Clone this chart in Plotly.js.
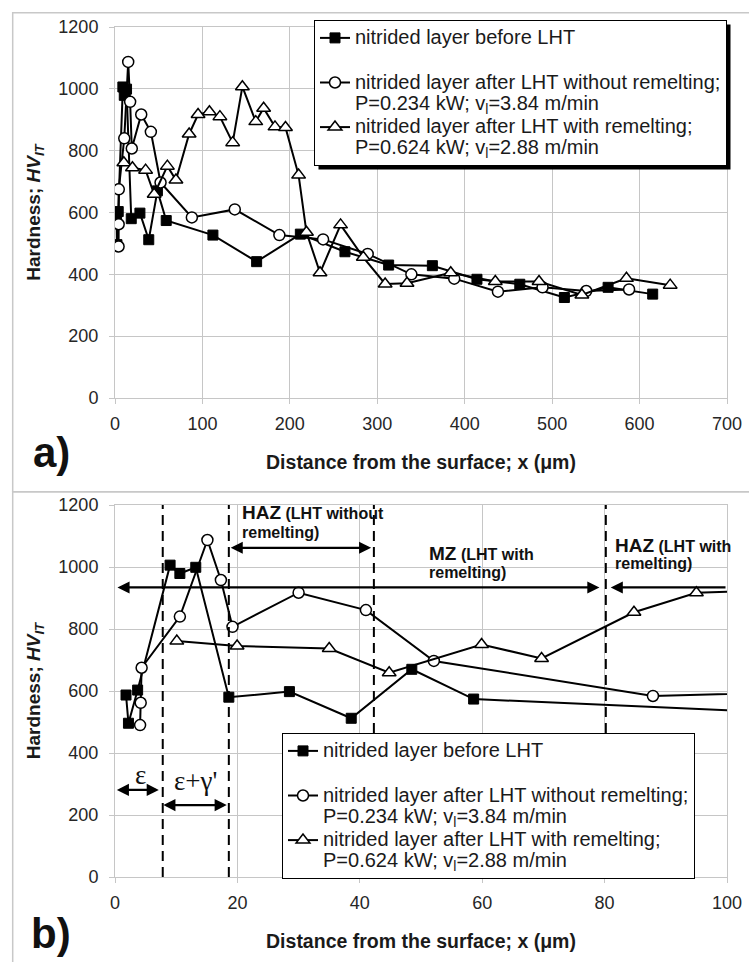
<!DOCTYPE html>
<html>
<head>
<meta charset="utf-8">
<script src="https://cdn.plot.ly/plotly-3.0.1.min.js"></script>
<style>
  html, body { margin: 0; padding: 0; background: #fff; }
  #chart { width: 749px; height: 962px; }
</style>
</head>
<body>
<div id="chart"></div>
<script>
// ---------------- data ----------------
const seriesNames = [
  "nitrided layer before LHT<br>\u00a0",
  "nitrided layer after LHT without remelting;<br>P=0.234 kW; v<sub>l</sub>=3.84 m/min",
  "nitrided layer after LHT with remelting;<br>P=0.624 kW; v<sub>l</sub>=2.88 m/min"
];

// nitrided layer before LHT (x in µm, hardness HV_IT)
const xBefore  = [1.8, 2.2, 3.7, 9.0, 10.6, 13.2, 18.6, 28.5, 38.6, 48.5, 58.6, 112, 162, 212, 263, 313, 363, 414, 463, 514, 564, 615];
const hvBefore = [587, 496, 603, 1006, 979, 999, 580, 598, 512, 670, 574, 527, 441, 530, 473, 430, 428, 384, 368, 325, 358, 336];

// after LHT without remelting
const xNoRemelt  = [4.1, 4.2, 4.35, 10.6, 15.1, 17.3, 19.2, 30, 41, 52.1, 87.9, 137, 188, 238, 289, 339, 388, 438, 489, 539, 588];
const hvNoRemelt = [490, 562, 675, 840, 1087, 958, 807, 917, 861, 697, 584, 610, 527, 513, 466, 400, 386, 344, 358, 346, 351];

// after LHT with remelting
const xRemelt  = [10.1, 19.95, 35, 44.8, 59.9, 69.7, 84.8, 95, 108, 120, 134.6, 145.7, 161, 170, 183, 195, 210, 219, 234.5, 258, 284, 309, 334, 384, 435, 485, 534, 585, 635];
const hvRemelt = [761, 745, 737, 659, 750, 705, 854, 917, 926, 910, 826, 1007, 894, 937, 877, 875, 721, 536, 405, 560, 455, 369, 371, 405, 377, 377, 333, 387, 365];

// zone boundaries in panel b (µm)
const zoneBounds = [7.8, 18.6, 42.3, 80.2];

// axis texts
const xTitle = "<b>Distance from the surface; x (\u03bcm)</b>";
const yTitle = "<b>Hardness; <i>HV</i><sub><i>IT</i></sub></b>";

// ---------------- layout helpers ----------------
const W = 749, H = 962;
const px = v => v / W;
const py = v => 1 - v / H;
const SANS = "Liberation Sans, Arial, Helvetica, sans-serif";
const SERIF = "Liberation Serif, Times New Roman, serif";
const GRID = "#c6c6c6";

const lineStyle = { color: "#000", width: 2 };
const markers = [
  { symbol: "square", size: 10, color: "#000", line: { color: "#000", width: 1 } },
  { symbol: "circle", size: 11, color: "#fff", line: { color: "#000", width: 1.5 } },
  { symbol: "triangle-up", size: 12, color: "#fff", line: { color: "#000", width: 1.5 } }
];
const xs = [xBefore, xNoRemelt, xRemelt];
const ys = [hvBefore, hvNoRemelt, hvRemelt];
const big = s => "<span style='font-size:20px'>" + s + "</span>";

const traces = [];
[["x", "y", "legend"], ["x2", "y2", "legend2"]].forEach(([xa, ya, lg]) => {
  for (let i = 0; i < 3; i++) {
    traces.push({
      type: "scatter", mode: "lines+markers",
      x: xs[i], y: ys[i], name: big(seriesNames[i]),
      xaxis: xa, yaxis: ya, legend: lg,
      line: lineStyle, marker: markers[i],
      cliponaxis: true
    });
  }
});

function xAxis(dom, range, dtick, anchor) {
  return {
    domain: dom, range: range, dtick: dtick, tick0: 0, anchor: anchor,
    showgrid: true, gridcolor: GRID, gridwidth: 1, zeroline: false,
    showline: true, linecolor: GRID, linewidth: 1, mirror: true,
    ticks: "outside", ticklen: 5, tickcolor: GRID,
    ticklabelstandoff: 4,
    tickfont: { family: SANS, size: 18, color: "#262626" },
    title: { text: xTitle, font: { family: SANS, size: 19.5, color: "#1a1a1a" }, standoff: 22 },
    fixedrange: true
  };
}
function yAxis(dom, anchor) {
  return {
    domain: dom, range: [0, 1200], dtick: 200, tick0: 0, anchor: anchor,
    showgrid: true, gridcolor: GRID, gridwidth: 1, zeroline: false,
    showline: true, linecolor: GRID, linewidth: 1, mirror: true,
    ticks: "outside", ticklen: 5, tickcolor: GRID,
    ticklabelstandoff: 7,
    tickfont: { family: SANS, size: 18, color: "#262626" },
    title: { text: yTitle, font: { family: SANS, size: 19, color: "#1a1a1a" }, standoff: 12 },
    fixedrange: true
  };
}

const legendCommon = {
  xanchor: "left", yanchor: "top", bgcolor: "#fff", bordercolor: "#000", borderwidth: 1,
  font: { family: SANS, size: 16, color: "#1a1a1a" }, valign: "top",
  itemwidth: 30, tracegroupgap: 0, orientation: "v"
};

const dashed = { color: "#000", width: 2, dash: "10px,6px" };
const shapes = [
  // panel frames
  { type: "rect", xref: "paper", yref: "paper", x0: px(12.7), x1: px(770), y0: py(12.7), y1: py(491.7), line: { color: "#c8c8c8", width: 1.5 }, layer: "below" },
  { type: "rect", xref: "paper", yref: "paper", x0: px(12.7), x1: px(770), y0: py(491.7), y1: py(990), line: { color: "#c8c8c8", width: 1.5 }, layer: "below" }
];
zoneBounds.forEach(b => shapes.push({
  type: "line", xref: "x2", yref: "y2", x0: b, x1: b, y0: 0, y1: 1200, line: dashed, layer: "above"
}));

function arrow(x, y, ax, ay, side) {
  return { xref: "x2", yref: "y2", axref: "x2", ayref: "y2", x: x, y: y, ax: ax, ay: ay,
    text: "", showarrow: true, arrowside: side, arrowhead: 2, arrowsize: 1.1, arrowwidth: 2.2,
    arrowcolor: "#000", standoff: 0, startstandoff: 0 };
}
function label(text, x, y, size, family, anchor) {
  return { xref: "paper", yref: "paper", x: px(x), y: py(y), text: text, showarrow: false,
    xanchor: anchor || "left", yanchor: "middle", font: { family: family || SANS, size: size, color: "#111" } };
}

const annotations = [
  arrow(0.4, 934, 79.4, 934, "end+start"),
  arrow(81.0, 934, 100, 934, "end"),
  arrow(18.9, 1062, 42.1, 1062, "end+start"),
  arrow(0.3, 281, 7.4, 281, "end+start"),
  arrow(7.9, 232, 18.5, 232, "end+start"),
  label("\u03b5", 140, 775, 27, SERIF, "center"),
  label("\u03b5+\u03b3'", 196, 781, 27, SERIF, "center"),
  label("<b><span style='font-size:19px'>HAZ</span> (LHT without</b>", 240, 512, 16),
  label("<b>remelting)</b>", 240, 532, 16),
  label("<b><span style='font-size:19px'>MZ</span> (LHT with</b>", 427, 553, 16),
  label("<b>remelting)</b>", 427, 572, 16),
  label("<b><span style='font-size:19px'>HAZ</span> (LHT with</b>", 613, 545, 16),
  label("<b>remelting)</b>", 613, 563, 16),
  label("<b>a)</b>", 51, 452, 42, SANS, "center"),
  label("<b>b)</b>", 51, 933, 42, SANS, "center")
];

const layout = {
  width: W, height: H,
  margin: { l: 0, r: 0, t: 0, b: 0, pad: 0 },
  paper_bgcolor: "#fff", plot_bgcolor: "#fff",
  font: { family: SANS, size: 17, color: "#262626" },
  showlegend: true,
  xaxis: xAxis([px(115), px(727)], [0, 700], 100, "y"),
  yaxis: yAxis([py(398), py(27)], "x"),
  xaxis2: xAxis([px(115), px(727)], [0, 100], 20, "y2"),
  yaxis2: yAxis([py(877), py(505)], "x2"),
  legend: Object.assign({}, legendCommon, { x: px(314), y: py(20) }),
  legend2: Object.assign({}, legendCommon, { x: px(282), y: py(733) }),
  shapes: shapes,
  annotations: annotations
};

Plotly.newPlot("chart", traces, layout, { staticPlot: true, displayModeBar: false }).then(gd => {
  // drop shadows behind the two legend boxes
  const root = gd.getBoundingClientRect();
  const extra = [];
  gd.querySelectorAll("g.legend rect.bg").forEach(bg => {
    const r = bg.getBoundingClientRect();
    const l = r.left - root.left, t = r.top - root.top;
    extra.push({ type: "rect", xref: "paper", yref: "paper",
      x0: px(l + 4), x1: px(l + r.width + 4), y0: py(t + 4), y1: py(t + r.height + 4),
      fillcolor: "#000", line: { width: 0 }, layer: "above" });
  });
  return Plotly.relayout(gd, { shapes: shapes.concat(extra) });
});
</script>
</body>
</html>
